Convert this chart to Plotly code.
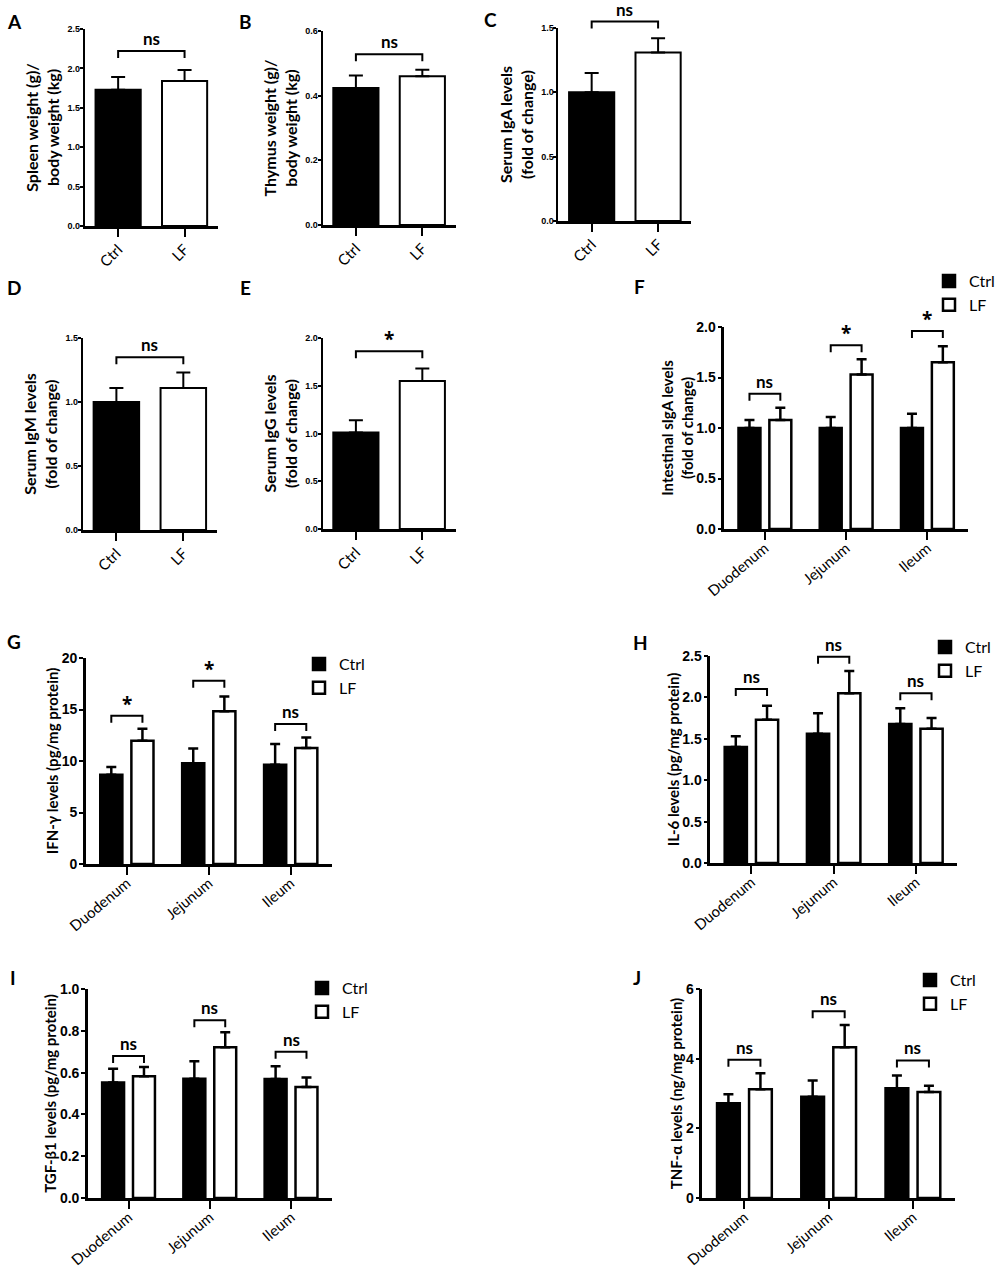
#!/usr/bin/env python3
import plotly.graph_objects as go

W, H = 1000, 1271

# ---- data (mean, SEM, bracket height, label) ----
groups = ["Ctrl", "LF"]
sites = ["Duodenum", "Jejunum", "Ileum"]

spleen_mean = [1.73, 1.84]
spleen_sem = [0.16, 0.14]
spleen_bracket = 2.22
spleen_sig = "ns"

thymus_mean = [0.424, 0.460]
thymus_sem = [0.038, 0.020]
thymus_bracket = 0.528
thymus_sig = "ns"

iga_mean = [1.00, 1.31]
iga_sem = [0.15, 0.11]
iga_bracket = 1.55
iga_sig = "ns"

igm_mean = [1.00, 1.11]
igm_sem = [0.11, 0.12]
igm_bracket = 1.35
igm_sig = "ns"

igg_mean = [1.01, 1.55]
igg_sem = [0.13, 0.13]
igg_bracket = 1.86
igg_sig = "*"

siga_ctrl = [1.00, 1.00, 1.00]
siga_ctrl_sem = [0.08, 0.11, 0.14]
siga_lf = [1.08, 1.53, 1.65]
siga_lf_sem = [0.12, 0.15, 0.16]
siga_bracket = [1.34, 1.82, 1.96]
siga_sig = ["ns", "*", "*"]

ifn_ctrl = [8.67, 9.77, 9.64]
ifn_ctrl_sem = [0.75, 1.45, 2.00]
ifn_lf = [11.97, 14.82, 11.26]
ifn_lf_sem = [1.17, 1.45, 1.03]
ifn_bracket = [14.4, 17.8, 13.6]
ifn_sig = ["*", "*", "ns"]

il6_ctrl = [1.40, 1.56, 1.68]
il6_ctrl_sem = [0.13, 0.25, 0.19]
il6_lf = [1.73, 2.05, 1.62]
il6_lf_sem = [0.17, 0.27, 0.13]
il6_bracket = [2.10, 2.49, 2.05]
il6_sig = ["ns", "ns", "ns"]

tgf_ctrl = [0.553, 0.571, 0.569]
tgf_ctrl_sem = [0.066, 0.083, 0.061]
tgf_lf = [0.582, 0.721, 0.531]
tgf_lf_sem = [0.045, 0.072, 0.046]
tgf_bracket = [0.68, 0.85, 0.70]
tgf_sig = ["ns", "ns", "ns"]

tnf_ctrl = [2.72, 2.91, 3.15]
tnf_ctrl_sem = [0.26, 0.46, 0.37]
tnf_lf = [3.12, 4.33, 3.04]
tnf_lf_sem = [0.46, 0.64, 0.18]
tnf_bracket = [3.97, 5.36, 3.95]
tnf_sig = ["ns", "ns", "ns"]

FONT = "Lato, 'Open Sans', sans-serif"
NARROW = "'Liberation Sans Narrow', 'Liberation Sans', Arial, sans-serif"

# grouped bar geometry (in category units)
GW = 0.27
GOFF = 0.19


def ax_ids(n):
  s = "" if n == 1 else str(n)
  return "x" + s, "y" + s, "xaxis" + s, "yaxis" + s


def setup_axes(fig, n, box, ymax, yticks, yfmt, title, ncat, cats, small):
  xr, yr, xk, yk = ax_ids(n)
  x0, x1, ytop, ybot = box
  lw_y = 2 if small else 2.5
  lw_x = 3 if small else 2.5
  fig.layout[xk] = dict(
      domain=[x0 / W, x1 / W], anchor=yr, range=[-0.5, ncat - 0.5], automargin=False,
      tickvals=list(range(ncat)), ticktext=cats, tickangle=-45 if small else -40,
      showline=True, linecolor="black", linewidth=lw_x, ticks="outside",
      ticklen=8, tickwidth=2, tickcolor="black", showgrid=False, zeroline=False,
      ticklabelstandoff=-2 if small else -6,
      tickfont=dict(family=FONT, size=15, color="black"), fixedrange=True)
  fig.layout[yk] = dict(
      domain=[1 - ybot / H, 1 - ytop / H], anchor=xr, range=[0, ymax], automargin=False,
      tickvals=yticks, tickformat=yfmt, showline=True, linecolor="black", linewidth=lw_y,
      ticks="outside", ticklen=3 if small else 4, tickwidth=2, tickcolor="black",
      showgrid=False, zeroline=False, ticklabelstandoff=-2 if small else -1,
      tickfont=dict(family=NARROW, size=9 if small else 14, color="black", weight="bold"),
      title=dict(text=title, standoff=4 if small else 0,
                 font=dict(family=FONT, size=16 if small else 15, color="black", weight="bold")),
      fixedrange=True)
  return xr, yr, (ybot - ytop)


def bracket(fig, xr, yr, xa, xb, yval, ymax, plot_h, label):
  yd = yval / ymax
  drop = 7.0 / plot_h
  fig.add_shape(type="path", xref=xr, yref=yr + " domain",
      path="M {},{} L {},{} L {},{} L {},{}".format(xa, yd - drop, xa, yd, xb, yd, xb, yd - drop),
      line=dict(color="black", width=2))
  star = label == "*"
  fig.add_annotation(xref=xr, yref=yr + " domain", x=(xa + xb) / 2.0, y=yd, yanchor="bottom",
      text=label, showarrow=False, yshift=-3 if star else 0,
      font=dict(family="'Open Sans', sans-serif" if star else FONT, size=19 if star else 17,
                color="black", weight="bold"))


def two_group_panel(fig, n, box, ymax, yticks, title, mean, sem, bval, sig):
  xr, yr, ph = setup_axes(fig, n, box, ymax, yticks, ".1f", title, 2, groups, True)
  fig.add_trace(go.Bar(
      x=[0, 1], y=mean, width=0.68, xaxis=xr, yaxis=yr, showlegend=False,
      marker=dict(color=["black", "white"], line=dict(color="black", width=2)),
      error_y=dict(type="data", symmetric=False, array=sem, arrayminus=[0, 0],
                   color="black", thickness=2, width=7)))
  bracket(fig, xr, yr, 0, 1, bval, ymax, ph, sig)


def site_panel(fig, n, box, ymax, yticks, yfmt, title, ctrl, ctrl_sem, lf, lf_sem,
               bvals, sigs, legend):
  xr, yr, ph = setup_axes(fig, n, box, ymax, yticks, yfmt, title, 3, sites, False)
  xs = list(range(len(sites)))
  fig.add_trace(go.Bar(
      x=xs, y=ctrl, name="Ctrl", width=GW, offset=-GOFF - GW / 2, xaxis=xr, yaxis=yr,
      legend=legend, marker=dict(color="black", line=dict(color="black", width=2.5)),
      error_y=dict(type="data", symmetric=False, array=ctrl_sem, arrayminus=[0] * len(xs),
                   color="black", thickness=2.5, width=5)))
  fig.add_trace(go.Bar(
      x=xs, y=lf, name="LF", width=GW, offset=GOFF - GW / 2, xaxis=xr, yaxis=yr,
      legend=legend, marker=dict(color="white", line=dict(color="black", width=2.5)),
      error_y=dict(type="data", symmetric=False, array=lf_sem, arrayminus=[0] * len(xs),
                   color="black", thickness=2.5, width=5)))
  for i, (bv, sg) in enumerate(zip(bvals, sigs)):
    bracket(fig, xr, yr, i - GOFF, i + GOFF, bv, ymax, ph, sg)


def main():
  fig = go.Figure()

  two_group_panel(fig, 1, (85, 218, 29, 226), 2.5, [0, 0.5, 1.0, 1.5, 2.0, 2.5],
      "Spleen weight (g)/<br>body weight (kg)", spleen_mean, spleen_sem, spleen_bracket, spleen_sig)
  two_group_panel(fig, 2, (323, 456, 31, 225), 0.6, [0, 0.2, 0.4, 0.6],
      "Thymus weight (g)/<br>body weight (kg)", thymus_mean, thymus_sem, thymus_bracket, thymus_sig)
  two_group_panel(fig, 3, (559, 692, 28, 221), 1.5, [0, 0.5, 1.0, 1.5],
      "Serum IgA levels<br>(fold of change)", iga_mean, iga_sem, iga_bracket, iga_sig)
  two_group_panel(fig, 4, (83, 217, 338, 530), 1.5, [0, 0.5, 1.0, 1.5],
      "Serum IgM levels<br>(fold of change)", igm_mean, igm_sem, igm_bracket, igm_sig)
  two_group_panel(fig, 5, (323, 456, 338, 529), 2.0, [0, 0.5, 1.0, 1.5, 2.0],
      "Serum IgG levels<br>(fold of change)", igg_mean, igg_sem, igg_bracket, igg_sig)

  site_panel(fig, 6, (725, 969, 327, 529), 2.0, [0, 0.5, 1.0, 1.5, 2.0], ".1f",
      "Intestinal sIgA levels<br>(fold of change)", siga_ctrl, siga_ctrl_sem, siga_lf, siga_lf_sem,
      siga_bracket, siga_sig, "legend")
  site_panel(fig, 7, (86, 332, 658, 864), 20, [0, 5, 10, 15, 20], "d",
      "IFN-γ levels (pg/mg protein)", ifn_ctrl, ifn_ctrl_sem, ifn_lf, ifn_lf_sem,
      ifn_bracket, ifn_sig, "legend2")
  site_panel(fig, 8, (711, 958, 656, 863), 2.5, [0, 0.5, 1.0, 1.5, 2.0, 2.5], ".1f",
      "IL-6 levels (pg/mg protein)", il6_ctrl, il6_ctrl_sem, il6_lf, il6_lf_sem,
      il6_bracket, il6_sig, "legend3")
  site_panel(fig, 9, (88, 332, 989, 1198), 1.0, [0, 0.2, 0.4, 0.6, 0.8, 1.0], ".1f",
      "TGF-β1 levels (pg/mg protein)", tgf_ctrl, tgf_ctrl_sem, tgf_lf, tgf_lf_sem,
      tgf_bracket, tgf_sig, "legend4")
  site_panel(fig, 10, (703, 956, 989, 1198), 6, [0, 2, 4, 6], "d",
      "TNF-α levels (ng/mg protein)", tnf_ctrl, tnf_ctrl_sem, tnf_lf, tnf_lf_sem,
      tnf_bracket, tnf_sig, "legend5")

  # panel letters
  letters = [("A", 5, 8), ("B", 237, 8), ("C", 482, 6), ("D", 5, 274), ("E", 238, 274),
             ("F", 633, 273), ("G", 5, 628), ("H", 632, 629), ("I", 8, 964), ("J", 632, 964)]
  for txt, lx, ly in letters:
    fig.add_annotation(xref="paper", yref="paper", x=lx / W, y=1 - ly / H, xanchor="left",
        yanchor="top", text=txt, showarrow=False,
        font=dict(family=FONT, size=19, color="black", weight="bold"))

  leg = dict(xanchor="left", yanchor="top", bgcolor="rgba(0,0,0,0)", tracegroupgap=0,
             font=dict(family=FONT, size=16, color="black"), itemclick=False)
  fig.update_layout(
      width=W, height=H, margin=dict(l=0, r=0, t=0, b=0),
      paper_bgcolor="white", plot_bgcolor="white", barmode="overlay",
      font=dict(family=FONT, color="black"),
      legend=dict(leg, x=930 / W, y=1 - 264 / H),
      legend2=dict(leg, x=299 / W, y=1 - 647 / H),
      legend3=dict(leg, x=925 / W, y=1 - 630 / H),
      legend4=dict(leg, x=302 / W, y=1 - 971 / H),
      legend5=dict(leg, x=910 / W, y=1 - 963 / H),
  )

  # the page's default body margin would shift the figure by 8px
  fig.write_html("out.html", config={"displayModeBar": False},
                 post_script="document.body.style.margin = '0px';")


if __name__ == "__main__":
  main()
